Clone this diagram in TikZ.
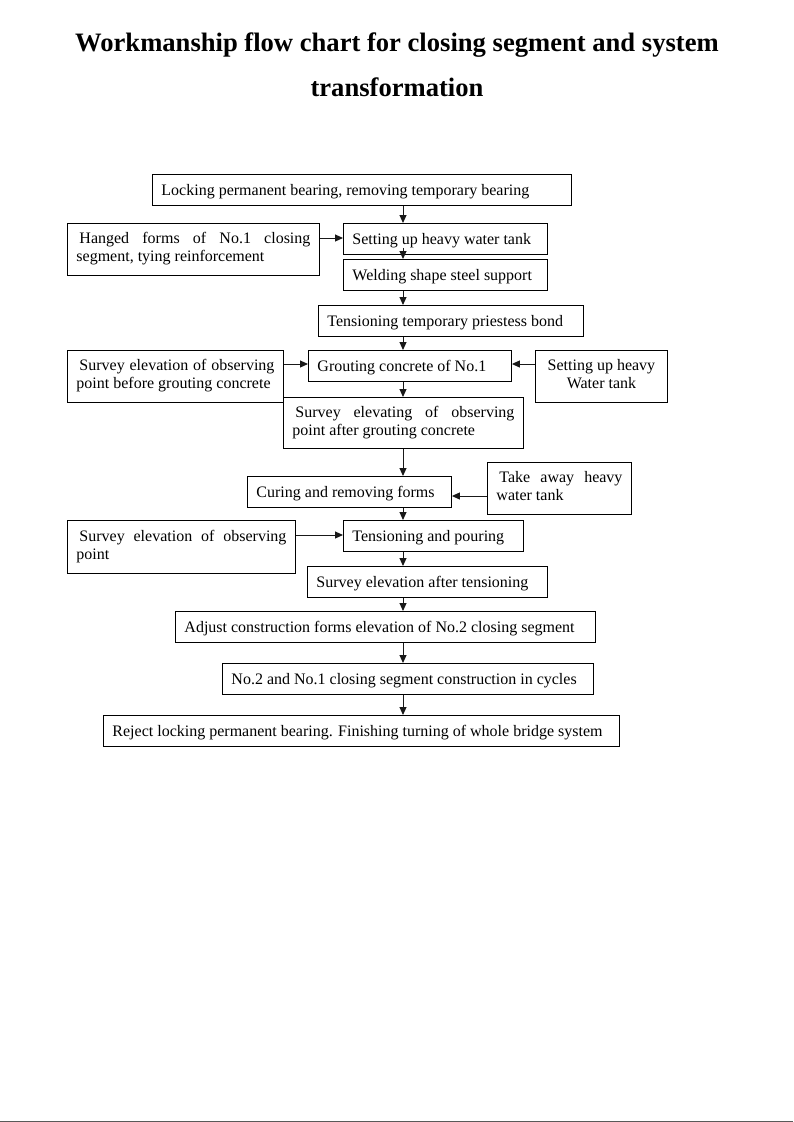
\documentclass[tikz,border=0pt]{standalone}
\usepackage{fontspec}
\setmainfont{Liberation Serif}
\usetikzlibrary{arrows.meta}
\newcommand\bxstrut{\rule[-3.5pt]{0pt}{18pt}}
\newcommand\twstrut{\rule[-5.5pt]{0pt}{18pt}}
\begin{document}
\begin{tikzpicture}[x=1pt,y=-1pt,
  box/.style={draw=black, line width=0.9pt, rectangle, anchor=north west,
    inner xsep=9pt, inner ysep=0pt, font=\fontsize{16}{18}\selectfont, align=left},
  cbox/.style={box, align=center},
  titl/.style={font=\fontsize{26.6}{30}\selectfont\bfseries, inner sep=0pt, anchor=base},
  arr/.style={draw=black!90, line width=1pt, -{Triangle[length=8pt,width=7pt]}}]
\useasboundingbox (0,0) rectangle (793,1122);
% title
\node[titl] (t1) at (397,51) {Workmanship flow chart for closing segment and system};
\node[titl] (t2) at (397,96) {transformation};
% boxes
\node[box, minimum width=419pt, minimum height=31pt] (n1) at (152,174) {\bxstrut\makebox[401pt][l]{Locking permanent bearing, removing temporary bearing}};
\node[box, minimum width=252pt, minimum height=52pt] (n2) at (67,223) {\twstrut\makebox[234pt][s]{\hspace*{3pt}Hanged forms of No.1 closing}\\\twstrut\makebox[234pt][l]{segment, tying reinforcement}};
\node[box, minimum width=204pt, minimum height=31pt] (n3) at (343,223) {\bxstrut\makebox[186pt][l]{Setting up heavy water tank}};
\node[box, minimum width=204pt, minimum height=31pt] (n4) at (343,259) {\bxstrut\makebox[186pt][l]{Welding shape steel support}};
\node[box, minimum width=265pt, minimum height=31pt] (n5) at (318,305) {\bxstrut\makebox[247pt][l]{Tensioning temporary priestess bond}};
\node[box, minimum width=216pt, minimum height=52pt] (n6) at (67,350) {\twstrut\makebox[198pt][s]{\hspace*{3pt}Survey elevation of observing}\\\twstrut\makebox[198pt][l]{point before grouting concrete}};
\node[box, minimum width=203pt, minimum height=31pt] (n7) at (308,350) {\bxstrut\makebox[185pt][l]{Grouting concrete of No.1}};
\node[cbox, minimum width=132pt, minimum height=52pt] (n8) at (535,350) {\twstrut\makebox[114pt][c]{Setting up heavy}\\\twstrut\makebox[114pt][c]{Water tank}};
\node[box, minimum width=240pt, minimum height=51pt] (n9) at (283,397) {\twstrut\makebox[222pt][s]{\hspace*{3pt}Survey elevating of observing}\\\twstrut\makebox[222pt][l]{point after grouting concrete}};
\node[box, minimum width=204pt, minimum height=31pt] (n10) at (247,476) {\bxstrut\makebox[186pt][l]{Curing and removing forms}};
\node[box, minimum width=144pt, minimum height=52pt] (n11) at (487,462) {\twstrut\makebox[126pt][s]{\hspace*{3pt}Take away heavy}\\\twstrut\makebox[126pt][l]{water tank}};
\node[box, minimum width=228pt, minimum height=53pt] (n12) at (67,520) {\twstrut\makebox[210pt][s]{\hspace*{3pt}Survey elevation of observing}\\\twstrut\makebox[210pt][l]{point}};
\node[box, minimum width=180pt, minimum height=31pt] (n13) at (343,520) {\bxstrut\makebox[162pt][l]{Tensioning and pouring}};
\node[box, minimum width=240pt, minimum height=31pt] (n14) at (307,566) {\bxstrut\makebox[222pt][l]{Survey elevation after tensioning}};
\node[box, minimum width=420pt, minimum height=31pt] (n15) at (175,611) {\bxstrut\makebox[402pt][l]{Adjust construction forms elevation of No.2 closing segment}};
\node[box, minimum width=371pt, minimum height=31pt] (n16) at (222,663) {\bxstrut\makebox[353pt][l]{No.2 and No.1 closing segment construction in cycles}};
\node[box, minimum width=516pt, minimum height=31pt] (n17) at (103,715) {\bxstrut\makebox[498pt][l]{Reject locking permanent bearing. Finishing turning of whole bridge system}};
% axis
\coordinate (ax) at (403,0);
% vertical arrows
\draw[arr] (ax |- n1.south) -- (ax |- n3.north);
\draw[arr] ([yshift=7pt]ax |- n3.south) -- (ax |- n4.north);
\draw[arr] (ax |- n4.south) -- (ax |- n5.north);
\draw[arr] (ax |- n5.south) -- (ax |- n7.north);
\draw[arr] (ax |- n7.south) -- (ax |- n9.north);
\draw[arr] (ax |- n9.south) -- (ax |- n10.north);
\draw[arr] (ax |- n10.south) -- (ax |- n13.north);
\draw[arr] (ax |- n13.south) -- (ax |- n14.north);
\draw[arr] (ax |- n14.south) -- (ax |- n15.north);
\draw[arr] (ax |- n15.south) -- (ax |- n16.north);
\draw[arr] (ax |- n16.south) -- (ax |- n17.north);
% horizontal arrows
\coordinate (h2) at (0,238);
\coordinate (h67) at (0,364);
\coordinate (h11) at (0,496);
\coordinate (h12) at (0,535);
\draw[arr] (n2.east |- h2) -- (n3.west |- h2);
\draw[arr] (n6.east |- h67) -- (n7.west |- h67);
\draw[arr] (n8.west |- h67) -- (n7.east |- h67);
\draw[arr] (n11.west |- h11) -- (n10.east |- h11);
\draw[arr] (n12.east |- h12) -- (n13.west |- h12);
% bottom rule
\draw[line width=1.2pt, draw=black!65] (0,1121.4) -- (793,1121.4);
\end{tikzpicture}
\end{document}
